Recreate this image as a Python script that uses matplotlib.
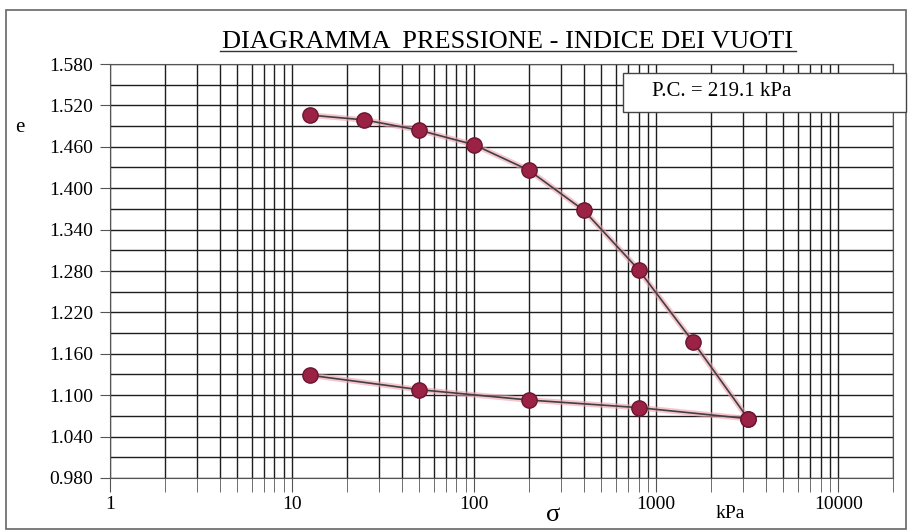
import numpy as np
import matplotlib.pyplot as plt
from matplotlib.patches import Rectangle
from matplotlib.lines import Line2D

# dati prova edometrica: carico e scarico
sigma_carico = [12.5, 25, 50, 100, 200, 400, 800, 1600, 3200]
e_carico = [1.506, 1.499, 1.484, 1.463, 1.426, 1.368, 1.282, 1.177, 1.066]

sigma_scarico = [3200, 800, 200, 50, 12.5]
e_scarico = [1.066, 1.082, 1.093, 1.108, 1.129]

y_ticks = [0.980, 1.040, 1.100, 1.160, 1.220, 1.280, 1.340, 1.400, 1.460, 1.520, 1.580]
x_ticks = [1, 10, 100, 1000, 10000]
x_labels = ['1', '10', '100', '1000', '10000']

plt.rcParams['font.family'] = ['Liberation Serif', 'DejaVu Serif']

fig = plt.figure(figsize=(9.12, 5.31), dpi=100)
ax = fig.add_axes([110/912, 1-478/531, 783/912, 414/531])

ax.set_xscale('log')
ax.set_xlim(1, 20000)
ax.set_ylim(0.980, 1.580)

# griglia
ax.set_yticks(y_ticks)
ax.set_yticklabels(['%.3f' % v for v in y_ticks])
ax.set_yticks(np.arange(0.980, 1.581, 0.03), minor=True)
ax.set_xticks(x_ticks)
ax.set_xticklabels(x_labels)
ax.grid(True, which='both', color='#1e1e1e', lw=1.0)
ax.tick_params(axis='y', which='major', length=7, pad=5, labelsize=14, color='#555')
ax.tick_params(axis='y', which='minor', length=0)
ax.tick_params(axis='x', which='both', length=10, pad=3, labelsize=14, color='#555')
for s in ax.spines.values():
    s.set_color('#555')

# curva di carico
ax.plot(sigma_carico, e_carico, color='#f0a0b0', lw=4, alpha=0.6, zorder=3)
ax.plot(sigma_carico, e_carico, color='#404040', lw=1.2, zorder=4)
ax.plot(sigma_carico, e_carico, 'o', ms=11, mfc='#9a2244', mec='#6a1530', zorder=5)

# curva di scarico
ax.plot(sigma_scarico, e_scarico, color='#f0a0b0', lw=4, alpha=0.6, zorder=3)
ax.plot(sigma_scarico, e_scarico, color='#404040', lw=1.2, zorder=4)
ax.plot(sigma_scarico, e_scarico, 'o', ms=11, mfc='#9a2244', mec='#6a1530', zorder=5)

# titolo sottolineato
fig.text(508/912, 1-48/531, 'DIAGRAMMA  PRESSIONE - INDICE DEI VUOTI',
         ha='center', va='baseline', fontsize=19)
fig.add_artist(Line2D([220/912, 796/912], [1-51/531, 1-51/531], color='#333', lw=1))

fig.text(20/912, 1-127/531, 'e', ha='center', va='center', fontsize=15)
fig.text(553/912, 1-515/531, 'σ', ha='center', va='center', fontsize=19)
fig.text(730/912, 1-513/531, 'kPa', ha='center', va='center', fontsize=14)

# riquadro pressione di preconsolidazione
fig.add_artist(Rectangle((623/912, 1-112/531), 283/912, 39/531, transform=fig.transFigure,
                         facecolor='white', edgecolor='#444', lw=1, zorder=6))
fig.text(652/912, 1-92/531, 'P.C. = 219.1 kPa', ha='left', va='center', fontsize=15, zorder=7)

# cornice esterna
fig.add_artist(Rectangle((6/912, 1-529/531), 900/912, 519/531, transform=fig.transFigure,
                         facecolor='none', edgecolor='#666', lw=1.2))

fig.savefig('out.png', dpi=100)
